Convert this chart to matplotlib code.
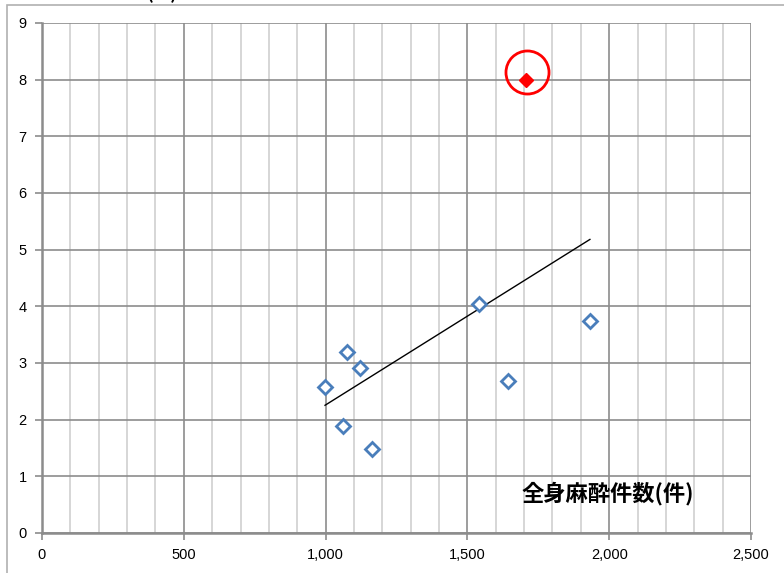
import numpy as np
import matplotlib.pyplot as plt
from matplotlib.patches import Rectangle
from matplotlib.ticker import MultipleLocator, FuncFormatter

plt.rcParams['font.family'] = ['Liberation Sans', 'DejaVu Sans']

# 全身麻酔件数 and rate (%) per hospital
cases = [998, 1075, 1121, 1061, 1164, 1541, 1643, 1932]
rates = [2.58, 3.19, 2.91, 1.89, 1.48, 4.04, 2.68, 3.74]
# highlighted hospital
hl_cases = [1707]
hl_rates = [7.99]

x_ticks = [0, 500, 1000, 1500, 2000, 2500]
y_ticks = list(range(0, 10))

fig = plt.figure(figsize=(7.84, 5.73), dpi=100)
ax = fig.add_axes([42 / 784, 40 / 573, (751 - 42) / 784, (533 - 23) / 573])

ax.set_xlim(0, 2500)
ax.set_ylim(0, 9)

# grid: minor every 100 on x, major every 500 / 1
ax.xaxis.set_minor_locator(MultipleLocator(100))
ax.set_xticks(x_ticks)
ax.set_yticks(y_ticks)
ax.grid(which='minor', axis='x', color='#d0d0d0', lw=1.2)
ax.grid(which='major', axis='both', color='#8c8c8c', lw=1.2)
ax.set_axisbelow(True)
ax.tick_params(which='minor', length=0)
ax.tick_params(which='major', length=5, width=1.2, color='#8c8c8c',
               labelsize=10.5, pad=6)
ax.xaxis.set_major_formatter(FuncFormatter(lambda v, p: f'{int(v):,}'))
for side in ['top', 'right']:
    ax.spines[side].set_visible(False)
for side in ['left', 'bottom']:
    ax.spines[side].set_color('#8c8c8c')
    ax.spines[side].set_linewidth(1.8)

# linear trend over all hospitals
all_x = np.array(cases + hl_cases, dtype=float)
all_y = np.array(rates + hl_rates, dtype=float)
slope, icpt = np.polyfit(all_x, all_y, 1)
tx = np.array([all_x.min(), all_x.max()])
ax.plot(tx, slope * tx + icpt, color='black', lw=1, zorder=3)

ax.plot(cases, rates, linestyle='none', marker='D', markersize=7.5,
        markerfacecolor='white', markeredgecolor='#4a7ebb',
        markeredgewidth=2, zorder=4)
ax.plot(hl_cases, hl_rates, linestyle='none', marker='D', markersize=7.5,
        markerfacecolor='#ff0000', markeredgecolor='#ff0000', zorder=4)
ax.plot(hl_cases[0] + 3, hl_rates[0] + 0.14, linestyle='none', marker='o',
        markersize=31, markerfacecolor='none', markeredgecolor='#ff0000',
        markeredgewidth=2, zorder=5, clip_on=False)

ax.text(1996, 0.69, '全身麻酔件数(件)', fontsize=16, fontweight='bold',
        family=['Noto Sans CJK JP', 'DejaVu Sans'], ha='center', va='center')

# outer chart frame and axis title above it
fig.patches.append(Rectangle((7 / 784, -0.1), 1.0, (573 - 5) / 573 + 0.1,
                             transform=fig.transFigure, fill=False,
                             edgecolor='#b0b0b0', lw=1.2))
fig.text(162 / 784, 1 - 3 / 573, '(%)', fontsize=13, fontweight='bold',
         family=['Noto Sans CJK JP', 'DejaVu Sans'], ha='center', va='bottom')

fig.savefig('out.png', dpi=100)
